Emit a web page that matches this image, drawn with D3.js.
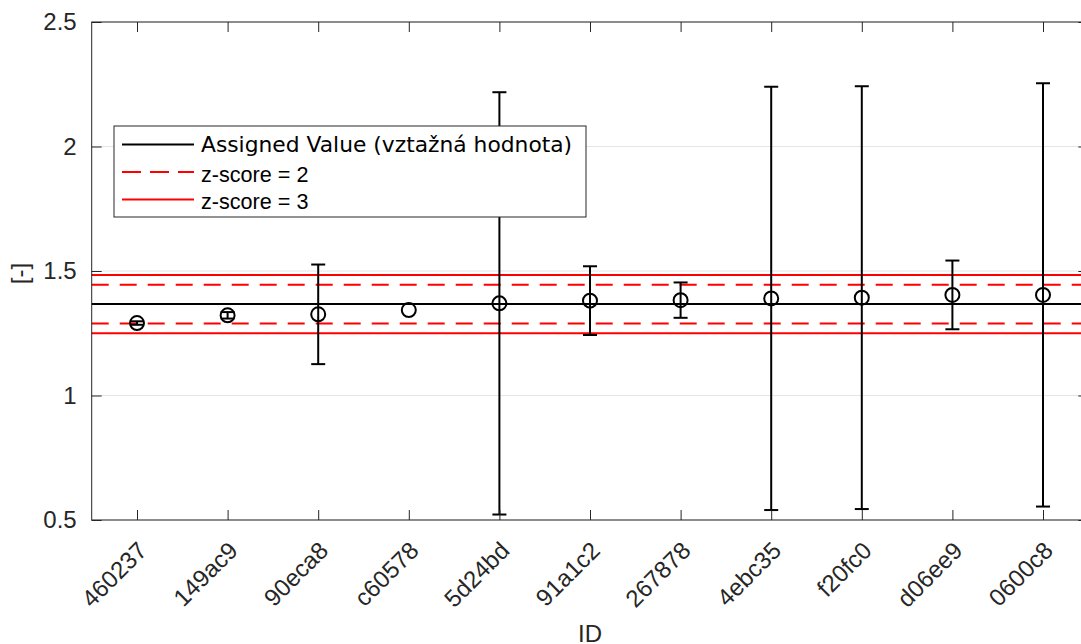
<!DOCTYPE html>
<html>
<head>
<meta charset="utf-8">
<script src="https://cdn.jsdelivr.net/npm/d3@7"></script>
<style>
  html, body { margin: 0; padding: 0; background: #fff; }
  svg { display: block; }
</style>
</head>
<body>
<svg id="chart" width="1081" height="644"></svg>
<script>
/* ═══════════════════════════════════════════════════════════════
   DATA
═══════════════════════════════════════════════════════════════ */

const ids          = ["460237", "149ac9", "90eca8", "c60578", "5d24bd", "91a1c2",
                      "267878", "4ebc35", "f20fc0", "d06ee9", "0600c8"];
const values       = [1.291, 1.322, 1.326, 1.343, 1.370, 1.381, 1.383, 1.390, 1.393, 1.404, 1.404];
const uncertainty  = [0.007, 0.013, 0.200, 0.000, 0.848, 0.138, 0.071, 0.850, 0.849, 0.138, 0.850];
const assignedValue = 1.367;
const sigma         = 0.039;
const yTicks        = [0.5, 1, 1.5, 2, 2.5];

/* ═══════════════════════════════════════════════════════════════
   CONFIG
═══════════════════════════════════════════════════════════════ */

const AXIS_COL = "#262626";
const FONT     = "'Liberation Sans', Arial, sans-serif";
const TICK_LEN = 10;
const TICK_FS  = 24;

const svg = d3.select("#chart");

const x = d3.scaleLinear().domain([0.5, ids.length + 0.5]).range([91.7, 1088.3]);
const y = d3.scaleLinear().domain([0.5, 2.5]).range([520, 22]);

const [x0, x1] = x.range();
const [yb, yt] = y.range();

/* ═══════════════════════════════════════════════════════════════
   GRID + REFERENCE LINES
═══════════════════════════════════════════════════════════════ */

svg.append("g")
  .selectAll("line")
  .data(yTicks)
  .join("line")
  .attr("x1", x0).attr("x2", x1)
  .attr("y1", d => y(d)).attr("y2", d => y(d))
  .attr("stroke", "#e5e5e5")
  .attr("stroke-width", 1);

const refLines = [
  { v: assignedValue + 3 * sigma, color: "#ff0000", dash: null },
  { v: assignedValue - 3 * sigma, color: "#ff0000", dash: null },
  { v: assignedValue + 2 * sigma, color: "#ff0000", dash: "17,11" },
  { v: assignedValue - 2 * sigma, color: "#ff0000", dash: "17,11" },
  { v: assignedValue,             color: "#000000", dash: null },
];

svg.append("g")
  .selectAll("line")
  .data(refLines)
  .join("line")
  .attr("x1", x0).attr("x2", x1)
  .attr("y1", d => y(d.v)).attr("y2", d => y(d.v))
  .attr("stroke", d => d.color)
  .attr("stroke-width", 2)
  .attr("stroke-dasharray", d => d.dash);

/* ═══════════════════════════════════════════════════════════════
   ERROR BARS + MARKERS
═══════════════════════════════════════════════════════════════ */

const pts = ids.map((id, i) => ({ id, pos: i + 1, v: values[i], e: uncertainty[i] }));
const CAP = 7;

const eb = svg.append("g")
  .selectAll("g")
  .data(pts.filter(d => d.e > 0))
  .join("g")
  .attr("stroke", "#000")
  .attr("stroke-width", 2);

eb.append("line")
  .attr("x1", d => x(d.pos)).attr("x2", d => x(d.pos))
  .attr("y1", d => y(d.v - d.e)).attr("y2", d => y(d.v + d.e));

eb.append("line")
  .attr("x1", d => x(d.pos) - CAP).attr("x2", d => x(d.pos) + CAP)
  .attr("y1", d => y(d.v + d.e)).attr("y2", d => y(d.v + d.e));

eb.append("line")
  .attr("x1", d => x(d.pos) - CAP).attr("x2", d => x(d.pos) + CAP)
  .attr("y1", d => y(d.v - d.e)).attr("y2", d => y(d.v - d.e));

svg.append("g")
  .selectAll("circle")
  .data(pts)
  .join("circle")
  .attr("cx", d => x(d.pos))
  .attr("cy", d => y(d.v))
  .attr("r", 7)
  .attr("fill", "none")
  .attr("stroke", "#000")
  .attr("stroke-width", 2);

/* ═══════════════════════════════════════════════════════════════
   AXES (box with inward ticks)
═══════════════════════════════════════════════════════════════ */

svg.append("rect")
  .attr("x", x0).attr("y", yt)
  .attr("width", x1 - x0).attr("height", yb - yt)
  .attr("fill", "none")
  .attr("stroke", AXIS_COL)
  .attr("stroke-width", 1);

const bottomAxis = svg.append("g")
  .attr("transform", `translate(0,${yb})`)
  .call(d3.axisBottom(x).tickValues(d3.range(1, ids.length + 1))
    .tickSize(-TICK_LEN).tickFormat(d => ids[d - 1]));

bottomAxis.select(".domain").remove();
bottomAxis.selectAll("line").attr("stroke", AXIS_COL);
bottomAxis.selectAll("text")
  .attr("fill", AXIS_COL)
  .attr("font-family", FONT)
  .attr("font-size", TICK_FS)
  .attr("text-anchor", "end")
  .attr("dy", null)
  .attr("y", 0)
  .attr("transform", "translate(11,32) rotate(-45)");

const topAxis = svg.append("g")
  .attr("transform", `translate(0,${yt})`)
  .call(d3.axisTop(x).tickValues(d3.range(1, ids.length + 1)).tickSize(-TICK_LEN).tickFormat(""));
topAxis.select(".domain").remove();
topAxis.selectAll("line").attr("stroke", AXIS_COL);

const leftAxis = svg.append("g")
  .attr("transform", `translate(${x0},0)`)
  .call(d3.axisLeft(y).tickValues(yTicks).tickSize(-TICK_LEN).tickPadding(15).tickFormat(d3.format("")));
leftAxis.select(".domain").remove();
leftAxis.selectAll("line").attr("stroke", AXIS_COL);
leftAxis.selectAll("text")
  .attr("fill", AXIS_COL)
  .attr("font-family", FONT)
  .attr("font-size", TICK_FS);

const rightAxis = svg.append("g")
  .attr("transform", `translate(${x1},0)`)
  .call(d3.axisRight(y).tickValues(yTicks).tickSize(-TICK_LEN).tickFormat(""));
rightAxis.select(".domain").remove();
rightAxis.selectAll("line").attr("stroke", AXIS_COL);

svg.append("text")
  .attr("transform", "translate(28,273.5) rotate(-90)")
  .attr("text-anchor", "middle")
  .attr("fill", AXIS_COL)
  .attr("font-family", FONT)
  .attr("font-size", TICK_FS)
  .text("[-]");

svg.append("text")
  .attr("x", 590).attr("y", 642)
  .attr("text-anchor", "middle")
  .attr("fill", AXIS_COL)
  .attr("font-family", FONT)
  .attr("font-size", TICK_FS)
  .text("ID");

/* ═══════════════════════════════════════════════════════════════
   LEGEND
═══════════════════════════════════════════════════════════════ */

const legendItems = [
  { label: "Assigned Value (vztažná hodnota)", color: "#000000", dash: null, font: "'DejaVu Sans', sans-serif", size: 21.8, dy: 0 },
  { label: "z-score = 2", color: "#ff0000", dash: "19,9", font: FONT, size: 21.6, dy: 2 },
  { label: "z-score = 3", color: "#ff0000", dash: null, font: FONT, size: 21.6, dy: 2 },
];

const legend = svg.append("g").attr("transform", "translate(114,126)");

legend.append("rect")
  .attr("width", 472).attr("height", 91)
  .attr("fill", "#fff")
  .attr("stroke", AXIS_COL)
  .attr("stroke-width", 1);

const rows = legend.selectAll("g.row")
  .data(legendItems)
  .join("g")
  .attr("class", "row")
  .attr("transform", (d, i) => `translate(0,${18.5 + i * 27.5})`);

rows.append("line")
  .attr("x1", 8).attr("x2", 80)
  .attr("stroke", d => d.color)
  .attr("stroke-width", 2)
  .attr("stroke-dasharray", d => d.dash);

rows.append("text")
  .attr("x", 87)
  .attr("y", d => d.dy)
  .attr("dy", "0.35em")
  .attr("fill", "#000")
  .attr("font-family", d => d.font)
  .attr("font-size", d => d.size)
  .text(d => d.label);
</script>
</body>
</html>
